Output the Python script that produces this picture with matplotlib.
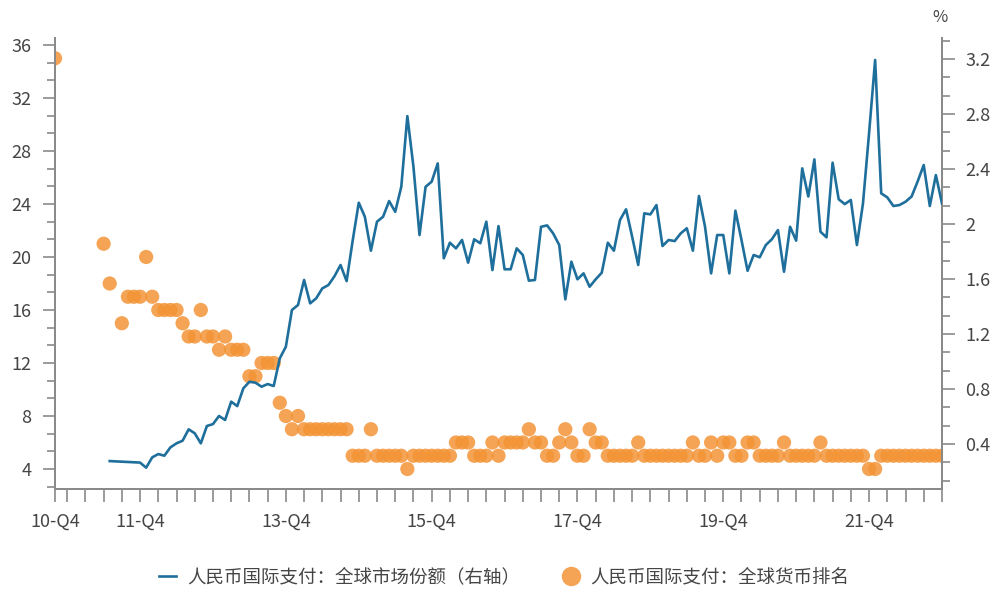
import numpy as np
import matplotlib.pyplot as plt
from matplotlib.ticker import FixedLocator

plt.rcParams['font.family'] = ['Noto Sans CJK SC', 'DejaVu Sans']
plt.rcParams['font.weight'] = 'light'

# months counted from the first observation (10-Q4 = 0)
rank_months = [0, 8, 9] + list(range(11, 147))
rank_values = [35, 21, 18,
               15, 17, 17, 17, 20, 17, 16, 16, 16, 16,
               15, 14, 14, 16, 14, 14, 13, 14, 13, 13,
               13, 11, 11, 12, 12, 12, 9, 8, 7, 8,
               7, 7, 7, 7, 7, 7, 7, 7, 5, 5,
               5, 7, 5, 5, 5, 5, 5, 4, 5, 5,
               5, 5, 5, 5, 5, 6, 6, 6, 5, 5,
               5, 6, 5, 6, 6, 6, 6, 7, 6, 6,
               5, 5, 6, 7, 6, 5, 5, 7, 6, 6,
               5, 5, 5, 5, 5, 6, 5, 5, 5, 5,
               5, 5, 5, 5, 6, 5, 5, 6, 5, 6,
               6, 5, 5, 6, 6, 5, 5, 5, 5, 6,
               5, 5, 5, 5, 5, 6, 5, 5, 5, 5,
               5, 5, 5, 4, 4, 5, 5, 5, 5, 5,
               5, 5, 5, 5, 5, 5]

share_months = [9] + list(range(14, 147))
share_values = [0.276,
                0.265, 0.228, 0.303, 0.327, 0.315, 0.376, 0.405, 0.424, 0.507, 0.478,
                0.405, 0.531, 0.545, 0.604, 0.575, 0.708, 0.676, 0.805, 0.853, 0.846,
                0.817, 0.836, 0.822, 1.023, 1.108, 1.375, 1.411, 1.593, 1.423, 1.46,
                1.532, 1.556, 1.62, 1.702, 1.585, 1.88, 2.155, 2.053, 1.806, 2.017,
                2.053, 2.167, 2.089, 2.271, 2.785, 2.417, 1.92, 2.271, 2.308, 2.441,
                1.751, 1.864, 1.823, 1.884, 1.719, 1.889, 1.86, 2.017, 1.665, 1.985,
                1.671, 1.671, 1.823, 1.775, 1.588, 1.593, 1.98, 1.99, 1.932, 1.847,
                1.452, 1.726, 1.598, 1.641, 1.544, 1.598, 1.646, 1.864, 1.806, 2.029,
                2.107, 1.908, 1.702, 2.078, 2.07, 2.138, 1.84, 1.884, 1.876, 1.932,
                1.969, 1.806, 2.204, 1.98, 1.641, 1.92, 1.92, 1.641, 2.097, 1.884,
                1.66, 1.775, 1.758, 1.847, 1.889, 1.956, 1.653, 1.98, 1.879, 2.405,
                2.2, 2.47, 1.944, 1.903, 2.446, 2.18, 2.145, 2.175, 1.847, 2.15,
                2.66, 3.193, 2.223, 2.194, 2.131, 2.138, 2.162, 2.2, 2.31, 2.429,
                2.131, 2.356, 2.15]

label_months = [0, 14, 38, 62, 86, 110, 134]
label_texts = ['10-Q4', '11-Q4', '13-Q4', '15-Q4', '17-Q4', '19-Q4', '21-Q4']

line_name = '人民币国际支付：全球市场份额（右轴）'
dot_name = '人民币国际支付：全球货币排名'

blue = '#1f6f9c'
orange = '#f39436'
gray = '#8a8a8a'
text_c = '#454545'

fig = plt.figure(figsize=(9.93, 5.89), dpi=100)
ax = fig.add_axes([0.0554, 0.1698, 0.8932, 0.7657])
ax2 = ax.twinx()

ax.scatter(rank_months, rank_values, s=105, color=orange, alpha=0.85,
           edgecolors='none', zorder=3)
ax2.plot(share_months, share_values, color=blue, lw=1.9, zorder=4)

ax.set_xlim(0, 146)
ax.set_ylim(2.49, 36.53)
ax2.set_ylim(0.073, 3.353)

# x axis: quarterly ticks, labels every two years
x_ticks = [0] + list(range(2, 147, 3))
ax.xaxis.set_major_locator(FixedLocator(x_ticks))
xt_labels = []
for m in x_ticks:
    xt_labels.append(label_texts[label_months.index(m)] if m in label_months else '')
ax.set_xticklabels(xt_labels)
ax.tick_params(axis='x', direction='out', length=9, width=1.2, color=gray,
               pad=8, labelsize=13, labelcolor=text_c)

ax.set_yticks(range(4, 37, 4))
ax.yaxis.set_minor_locator(FixedLocator(np.arange(4 - 4 / 3, 36.01, 4 / 3)))
ax.tick_params(axis='y', which='major', direction='out', length=9, width=1.2,
               color=gray, pad=8, labelsize=13, labelcolor=text_c)
ax.tick_params(axis='y', which='minor', direction='out', length=6, width=1.2,
               color=gray)

ax2.set_yticks([0.4, 0.8, 1.2, 1.6, 2.0, 2.4, 2.8, 3.2])
ax2.set_yticklabels(['0.4', '0.8', '1.2', '1.6', '2', '2.4', '2.8', '3.2'])
ax2.yaxis.set_minor_locator(FixedLocator(np.arange(0.4 / 3, 3.34, 0.4 / 3)))
ax2.tick_params(axis='y', which='major', direction='out', length=9, width=1.2,
                color=gray, pad=8, labelsize=13, labelcolor=text_c)
ax2.tick_params(axis='y', which='minor', direction='out', length=6, width=1.2,
                color=gray)

for a in (ax, ax2):
    a.spines['top'].set_visible(False)
    for s in ('left', 'right', 'bottom'):
        a.spines[s].set_color(gray)
        a.spines[s].set_linewidth(1.4)

fig.text(0.947, 0.97, '%', ha='center', va='center', fontsize=12, color=text_c)

h_line = plt.Line2D([], [], color=blue, lw=1.9)
h_dot = plt.Line2D([], [], marker='o', ls='none', markersize=14,
                   markerfacecolor=orange, markeredgecolor='none', alpha=0.85)
fig.legend([h_line, h_dot], [line_name, dot_name], loc='center',
           bbox_to_anchor=(0.508, 1 - 577 / 589), ncol=2, frameon=False,
           fontsize=13.3, labelcolor=text_c, handlelength=0.9, handletextpad=0.6,
           columnspacing=2.3)

fig.savefig('out.png', dpi=100, facecolor='white')
